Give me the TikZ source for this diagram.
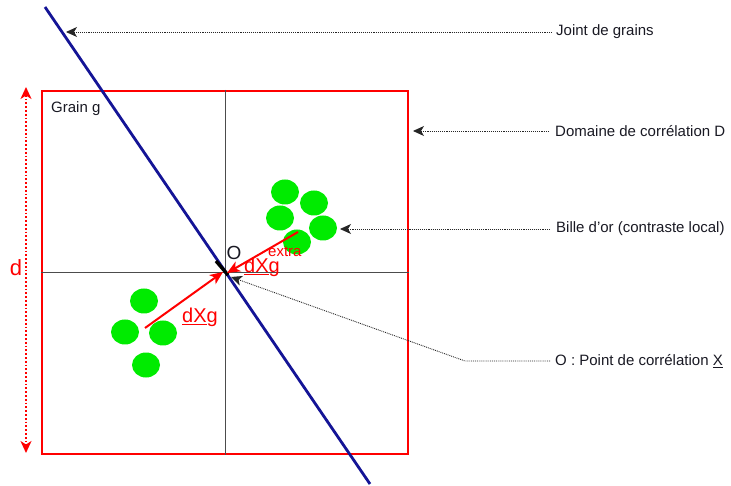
\documentclass[tikz,border=0pt]{standalone}
\usepackage{fontspec}
\setmainfont{Liberation Sans}
\usetikzlibrary{arrows.meta,shapes.geometric}
\definecolor{jointblue}{RGB}{20,20,150}
\definecolor{blobgreen}{RGB}{0,235,0}
\definecolor{txt}{RGB}{25,25,35}
\begin{document}
\begin{tikzpicture}[x=1pt,y=-1pt,
  lbl/.style={font=\fontsize{15}{18}\selectfont, text=txt, anchor=west, inner sep=0pt},
  leader/.style={densely dotted, line width=0.9pt, black!85, -{Stealth[length=11pt,width=10pt,inset=3pt]}},
  redarrow/.style={red, line width=2pt, -{Stealth[length=13pt,width=11pt,inset=3.5pt]}},
  blob/.style={ellipse, fill=blobgreen, draw=none, minimum width=28pt, minimum height=25pt, inner sep=0pt},
  cross/.style={line width=0.8pt, black!70},
  redtext/.style={red, font=\fontsize{20}{24}\selectfont, inner sep=0pt}]
\useasboundingbox (0,0) rectangle (731,486);
% domain
\node[draw=red, line width=2pt, minimum width=366pt, minimum height=363pt, inner sep=0pt] (dom) at (225,272.5) {};
\draw[cross] (dom.north) -- (dom.south);
\draw[cross] (dom.west) -- (dom.east);
\node[lbl, anchor=base west] (grain) at (51,113) {Grain g};
% grain boundary
\coordinate (j1) at (45,7);
\coordinate (j2) at (370,484);
\draw[jointblue, line width=2.8pt] (j1) -- (j2);
\coordinate (O) at (225,273);
\coordinate (k1) at (216,261);
\coordinate (k2) at (228,275);
\draw[black, line width=3.4pt] (k1) -- (k2);
% blobs
\node[blob] (b1) at (285,192) {};
\node[blob] (b2) at (314,203) {};
\node[blob] (b3) at (280,218) {};
\node[blob] (b4) at (323,228) {};
\node[blob] (b5) at (297,242) {};
\node[blob] (c1) at (144,301) {};
\node[blob] (c2) at (125,332) {};
\node[blob] (c3) at (163,333) {};
\node[blob] (c4) at (146,365) {};
% red vectors
\coordinate (a1) at (145,328);
\coordinate (a1e) at (223,272);
\draw[redarrow] (a1) -- (a1e);
\coordinate (a2) at (298,232);
\coordinate (a2e) at (227,273);
\draw[redarrow] (a2) -- (a2e);
\node[redtext, anchor=base] (dxg) at (200,323) {\underline{dX}g};
\node[redtext, anchor=base] (dxge) at (262,272.5) {\underline{dX}g};
\node[red, font=\fontsize{15}{18}\selectfont, inner sep=0pt, anchor=base west] (extra) at (268,257) {extra};
\node[font=\fontsize{19}{22}\selectfont, text=txt, inner sep=0pt] (Olbl) at (234,253) {O};
% d arrow
\coordinate (dt) at (26,87);
\coordinate (db) at (26,453);
\draw[red, dotted, line width=1.8pt, {Stealth[length=12pt,width=11pt,inset=3.5pt]}-{Stealth[length=12pt,width=11pt,inset=3.5pt]}] (dt) -- (db);
\node[red, font=\fontsize{22}{26}\selectfont, inner sep=0pt] (dl) at (16,268) {d};
% labels and leaders
\node[lbl] (tj) at (556,32) {Joint de grains};
\coordinate (pj) at (66,31);
\draw[leader] ([xshift=-4pt]tj.west) -- (tj.west -| pj);
\node[lbl] (td) at (555,131) {Domaine de corrélation D};
\coordinate (pd) at (413,130);
\draw[leader] ([xshift=-6pt]td.west) -- (td.west -| pd);
\node[lbl] (tb) at (556,229) {Bille d'or (contraste local)};
\coordinate (pb) at (340,228);
\draw[leader] ([xshift=-6pt]tb.west) -- (tb.west -| pb);
\node[lbl] (to) at (555,361) {O : Point de corrélation \underline{X}};
\coordinate (ok) at (465,361);
\coordinate (po) at (231,277);
\draw[leader] ([xshift=-5pt]to.west) -- (to.west -| ok) -- (po);
\end{tikzpicture}
\end{document}
